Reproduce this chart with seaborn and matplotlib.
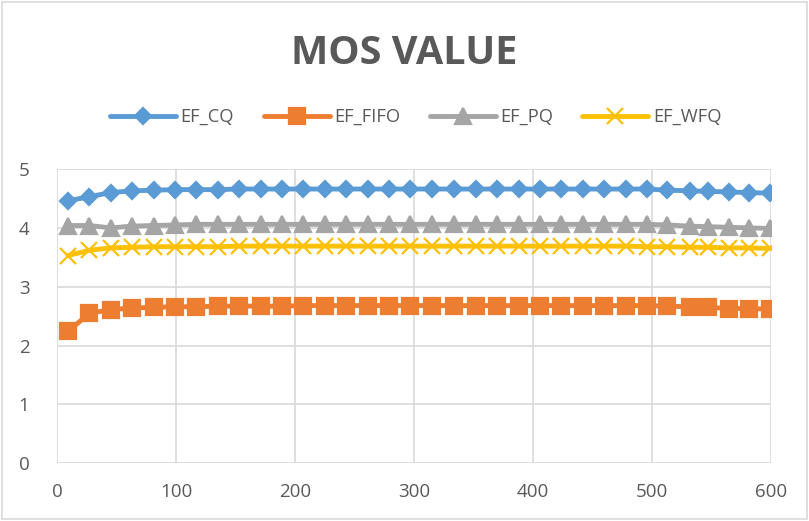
import matplotlib
matplotlib.use("Agg")
import matplotlib.pyplot as plt
import seaborn as sns
import pandas as pd
from matplotlib.patches import Rectangle

# sample times (x axis)
times = [9, 27, 45, 63, 81, 99, 117, 135, 153, 171, 189, 207, 225, 243, 261, 279,
         297, 315, 334, 352, 370, 388, 406, 424, 442, 460, 478, 496, 513, 532,
         547, 565, 582, 599]

ef_cq = [4.46, 4.53, 4.60, 4.63, 4.64, 4.65, 4.65, 4.65, 4.66, 4.66, 4.66, 4.66,
         4.66, 4.66, 4.66, 4.66, 4.66, 4.66, 4.66, 4.66, 4.66, 4.66, 4.66, 4.66,
         4.66, 4.66, 4.66, 4.66, 4.64, 4.63, 4.62, 4.61, 4.60, 4.59]
ef_fifo = [2.24, 2.55, 2.61, 2.64, 2.65, 2.66, 2.66, 2.67, 2.67, 2.67, 2.67, 2.68,
           2.68, 2.68, 2.68, 2.68, 2.68, 2.68, 2.68, 2.68, 2.68, 2.68, 2.68, 2.68,
           2.68, 2.68, 2.68, 2.68, 2.67, 2.66, 2.65, 2.63, 2.63, 2.62]
ef_pq = [4.04, 4.04, 4.00, 4.03, 4.04, 4.05, 4.06, 4.06, 4.06, 4.06, 4.06, 4.06,
         4.06, 4.06, 4.06, 4.06, 4.06, 4.06, 4.06, 4.06, 4.06, 4.06, 4.06, 4.06,
         4.06, 4.06, 4.06, 4.06, 4.05, 4.03, 4.02, 4.01, 4.00, 3.99]
ef_wfq = [3.53, 3.62, 3.66, 3.67, 3.68, 3.68, 3.68, 3.68, 3.69, 3.69, 3.69, 3.69,
          3.69, 3.69, 3.69, 3.69, 3.69, 3.69, 3.69, 3.69, 3.69, 3.69, 3.69, 3.69,
          3.69, 3.69, 3.69, 3.68, 3.68, 3.67, 3.67, 3.66, 3.66, 3.65]

series = ["EF_CQ", "EF_FIFO", "EF_PQ", "EF_WFQ"]
values = [ef_cq, ef_fifo, ef_pq, ef_wfq]
colors = ["#5B9BD5", "#ED7D31", "#A5A5A5", "#FFC000"]
markers = ["D", "s", "^", "x"]
msizes = [8.5, 12, 12, 11]

df = pd.DataFrame({"time": times * 4,
                   "mos": [v for vals in values for v in vals],
                   "series": [s for s in series for _ in times]})

sns.set_style("white")
plt.rcParams["font.family"] = ["Open Sans", "DejaVu Sans"]
text_col = "#595959"
grid_col = "#D9D9D9"

fig = plt.figure(figsize=(8.09, 5.21), dpi=100)
ax = fig.add_axes([0.0708, 0.1107, 0.8819, 0.5649])

for s, c, m, ms in zip(series, colors, markers, msizes):
    sub = df[df["series"] == s]
    sns.lineplot(data=sub, x="time", y="mos", ax=ax, color=c, marker=m,
                 markersize=ms, markeredgecolor=c, markeredgewidth=1.6,
                 linewidth=3.5, label=s)

ax.set_xlim(0, 600)
ax.set_ylim(0, 5)
ax.set_xticks(range(0, 601, 100))
ax.set_yticks(range(0, 6))
ax.grid(True, color=grid_col, linewidth=1.2)
ax.set_axisbelow(True)
for sp in ax.spines.values():
    sp.set_visible(False)
ax.tick_params(axis="both", length=0, labelsize=13.5, labelcolor=text_col)
ax.tick_params(axis="x", pad=14)
ax.tick_params(axis="y", pad=20)
ax.set_xlabel("")
ax.set_ylabel("")

ax.legend(loc="center", bbox_to_anchor=(0.514, 0.775), bbox_transform=fig.transFigure,
          ncol=4, frameon=False, fontsize=13.2, handlelength=3.6, columnspacing=1.6,
          handletextpad=0.25, labelcolor=text_col)

fig.text(0.5, 0.898, "MOS VALUE", ha="center", va="center", fontsize=28.5,
         fontweight="bold", color=text_col)

fig.patches.append(Rectangle((0.003, 0.003), 0.994, 0.994, transform=fig.transFigure,
                             fill=False, edgecolor=grid_col, linewidth=1.2))

fig.savefig("out.png", dpi=100)
